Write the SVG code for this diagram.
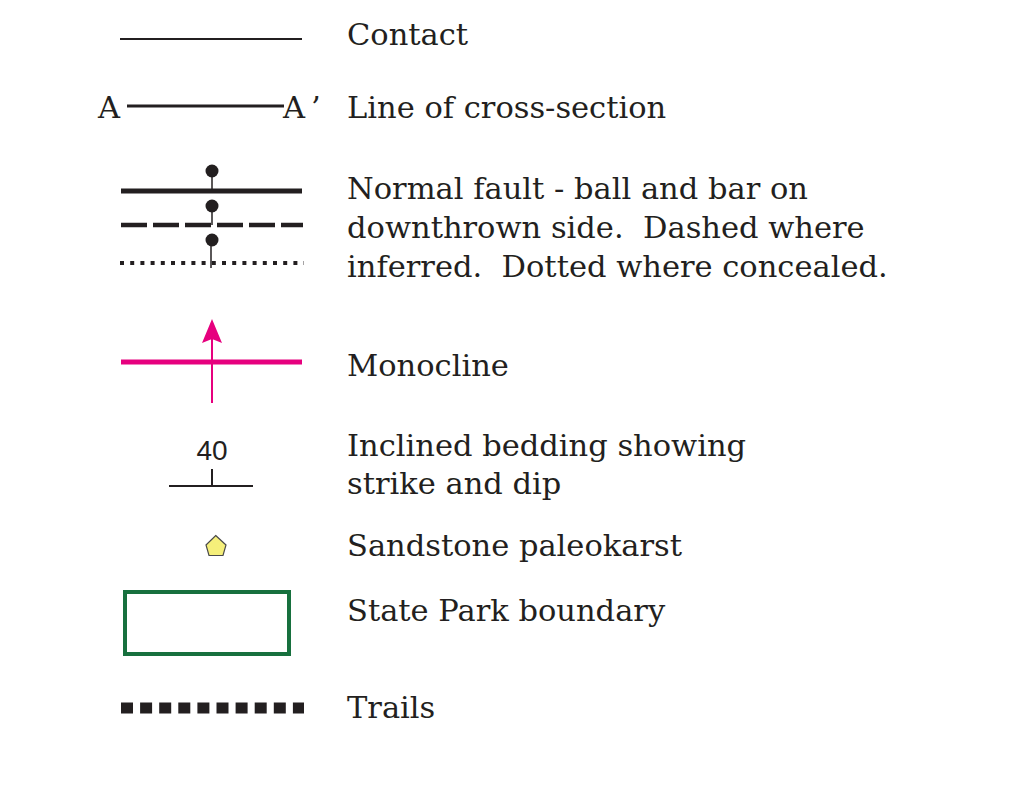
<svg xmlns="http://www.w3.org/2000/svg" width="1018" height="798" viewBox="0 0 1018 798">
  <style>
    .lbl { font-family: "DejaVu Serif", "Liberation Serif", serif; font-size: 30.5px; fill: #231f20; white-space: pre; }
    .ink { stroke: #231f20; fill: none; }
    .pink { stroke: #e6007e; fill: none; }
  </style>
  <rect width="1018" height="798" fill="#ffffff"/>

  <!-- Contact -->
  <g id="contact">
    <line class="ink" x1="120" y1="39" x2="302" y2="39" stroke-width="2.2"/>
    <text class="lbl" x="347" y="45">Contact</text>
  </g>

  <!-- Line of cross-section -->
  <g id="cross-section">
    <text class="lbl" x="98" y="118">A</text>
    <line class="ink" x1="127" y1="106" x2="284" y2="106" stroke-width="3"/>
    <text class="lbl" x="283" y="118">A<tspan x="311">’</tspan></text>
    <text class="lbl" x="347" y="118">Line of cross-section</text>
  </g>

  <!-- Normal fault: solid, dashed (inferred), dotted (concealed) -->
  <g id="normal-fault">
    <line class="ink" x1="121" y1="191" x2="302" y2="191" stroke-width="5"/>
    <line class="ink" x1="212" y1="171" x2="212" y2="191" stroke-width="1.5"/>
    <circle cx="212" cy="171" r="6.5" fill="#231f20"/>
    <line class="ink" x1="121" y1="225" x2="303" y2="225" stroke-width="4.5" stroke-dasharray="26 6"/>
    <line class="ink" x1="212" y1="206" x2="212" y2="225" stroke-width="1.5"/>
    <circle cx="212" cy="206" r="6.5" fill="#231f20"/>
    <line class="ink" x1="120" y1="263" x2="304" y2="263" stroke-width="4" stroke-dasharray="4 6.2"/>
    <line class="ink" x1="211" y1="241" x2="211" y2="268" stroke-width="1.5"/>
    <circle cx="212" cy="240" r="6.5" fill="#231f20"/>
    <text class="lbl" x="347" y="199">Normal fault - ball and bar on</text>
    <text class="lbl" x="347" y="238">downthrown side.  Dashed where</text>
    <text class="lbl" x="347" y="277">inferred.  Dotted where concealed.</text>
  </g>

  <!-- Monocline -->
  <g id="monocline">
    <line class="pink" x1="121" y1="362" x2="302" y2="362" stroke-width="5"/>
    <line class="pink" x1="212" y1="403" x2="212" y2="336" stroke-width="2"/>
    <path d="M212,319 L222,343 L212,339 L202,343 Z" fill="#e6007e"/>
    <text class="lbl" x="347" y="376">Monocline</text>
  </g>

  <!-- Inclined bedding: strike line, dip tick, dip value -->
  <g id="bedding">
    <text x="212" y="460" text-anchor="middle" font-family="Liberation Sans, Arial, sans-serif" font-size="28" fill="#231f20">40</text>
    <line class="ink" x1="169" y1="486" x2="253" y2="486" stroke-width="2"/>
    <line class="ink" x1="212" y1="469" x2="212" y2="486" stroke-width="2"/>
    <text class="lbl" x="347" y="456">Inclined bedding showing</text>
    <text class="lbl" x="347" y="494">strike and dip</text>
  </g>

  <!-- Sandstone paleokarst -->
  <g id="paleokarst">
    <polygon points="215.7,535.5 226,545 223,555.5 209,555.5 206,545" fill="#f5ef7a" stroke="#4a4a4a" stroke-width="1.2"/>
    <text class="lbl" x="347" y="556">Sandstone paleokarst</text>
  </g>

  <!-- State Park boundary -->
  <g id="park-boundary">
    <rect x="125" y="592" width="164" height="62" fill="none" stroke="#17703e" stroke-width="4"/>
    <text class="lbl" x="347" y="621">State Park boundary</text>
  </g>

  <!-- Trails -->
  <g id="trails">
    <line class="ink" x1="121" y1="708" x2="304" y2="708" stroke-width="11" stroke-dasharray="12 7.1"/>
    <text class="lbl" x="347" y="718">Trails</text>
  </g>
</svg>
